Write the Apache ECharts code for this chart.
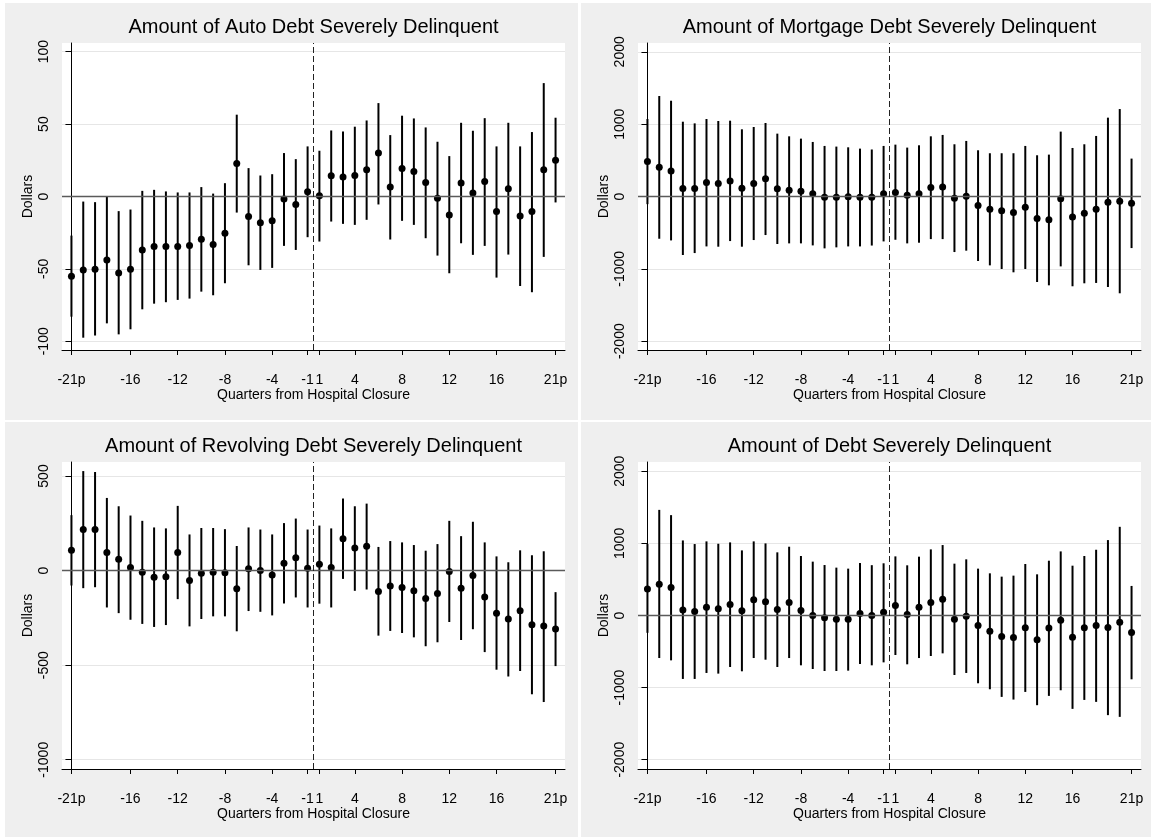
<!DOCTYPE html>
<html><head><meta charset="utf-8">
<script src="https://cdn.jsdelivr.net/npm/echarts@6/dist/echarts.min.js"></script>
<style>html,body{margin:0;padding:0;background:#fff}#c{width:1151px;height:837px}</style>
</head><body><div id="c"></div>
<script>
// Quarters relative to hospital closure (no quarter 0)
const quarters = [-21,-20,-19,-18,-17,-16,-15,-14,-13,-12,-11,-10,-9,-8,-7,-6,-5,-4,-3,-2,-1,
                  1,2,3,4,5,6,7,8,9,10,11,12,13,14,15,16,17,18,19,20,21];
const xTickQuarters = [-21,-16,-12,-8,-4,-1,1,4,8,12,16,21];
const xTickLabels = ['-21p','-16','-12','-8','-4','-1','1','4','8','12','16','21p'];

// Auto debt
const autoEst = [-55,-50.7,-50.2,-43.8,-52.8,-50.2,-36.9,-34.6,-34.6,-34.6,-33.9,-29.5,-33.2,-25.3,22.8,-13.8,-18.2,-16.8,-1.8,-5.5,3.2,
                 0.5,14.3,13.4,14.5,18.4,30,6.5,19.4,17.3,9.7,-1.2,-12.7,9.4,2.5,10.4,-10.4,5.3,-13.4,-10.4,18.4,25.1];
const autoHi = [-27,-3.5,-3.9,0,-10.1,-9,3.9,4.6,3.5,2.8,2.8,6.5,2,9.2,56.5,19.6,14.5,15.4,30,25.8,34.6,
                31.6,45.6,44.9,48.2,52.5,64.5,42.4,55.8,53.9,47.7,37.8,27.9,50.9,45.4,54.1,34.6,50.9,34.6,44.5,78.3,54.4];
const autoLo = [-83,-97.5,-96,-87.6,-95.2,-91.7,-77.9,-74,-73,-71.4,-70.5,-65.7,-68.2,-59.9,-11.1,-47.5,-50.7,-49.3,-34.1,-36.9,-28.1,
                -31.1,-17.3,-18.9,-19.6,-16.1,-5.5,-29.7,-16.8,-19.6,-28.8,-40.8,-53,-32.3,-40.3,-34.1,-56,-40.1,-61.8,-66.1,-41.7,-4.1];
const autoTicks = [-100,-50,0,50,100];

// Mortgage debt
const mortEst = [483,405,354,110,110,193,179,216,115,179,244,106,87,74,37,-9,-9,-5,-9,-12,37,
                 55,18,37,124,133,-23,5,-124,-175,-198,-221,-147,-303,-322,-32,-285,-230,-175,-78,-64,-92];
const mortHi = [1071,1389,1324,1034,1011,1071,1044,1048,929,961,1016,869,832,800,754,699,690,680,662,650,699,
                717,676,708,832,851,722,768,639,598,598,598,699,570,579,897,671,722,837,1090,1209,524];
const mortLo = [-106,-584,-607,-809,-782,-690,-694,-616,-694,-602,-533,-657,-648,-648,-676,-717,-703,-690,-690,-678,-621,
                -598,-648,-639,-589,-589,-768,-749,-892,-952,-1002,-1048,-1002,-1182,-1228,-966,-1241,-1200,-1195,-1251,-1338,-713];
const mortTicks = [-2000,-1000,0,1000,2000];

// Revolving debt
const revEst = [107,217,217,95,60,16,-9,-35,-32,96,-53,-14,-9,-11,-96,9,0,-23,39,68,12,
                33,16,168,119,128,-111,-81,-89,-107,-147,-121,-5,-93,-26,-140,-225,-256,-212,-286,-293,-309];
const revHi = [293,526,521,384,340,291,263,228,223,342,191,225,225,219,130,228,217,191,251,275,217,
               238,223,381,340,354,125,156,149,135,105,140,263,182,258,149,75,44,107,81,102,-114];
const revLo = [-79,-93,-88,-195,-225,-260,-282,-298,-288,-151,-295,-256,-242,-242,-321,-214,-218,-237,-174,-142,-195,
               -175,-195,-44,-107,-100,-344,-319,-330,-353,-400,-379,-272,-367,-310,-431,-524,-560,-531,-654,-695,-505];
const revTicks = [-1000,-500,0,500];

// Total debt
const totEst = [369,433,387,78,55,115,92,152,65,217,189,83,180,69,0,-32,-51,-51,28,0,46,
                138,14,115,180,226,-51,-9,-138,-217,-290,-304,-171,-336,-175,-65,-300,-171,-138,-166,-92,-235];
const totHi = [991,1465,1392,1041,991,1028,995,1014,903,1028,1000,876,954,825,747,700,664,650,728,698,724,
               820,696,816,917,977,719,779,650,585,539,553,714,571,760,889,691,825,912,1046,1230,410];
const totLo = [-240,-590,-622,-880,-880,-797,-806,-714,-774,-590,-613,-714,-590,-691,-742,-770,-770,-765,-673,-691,-650,
               -548,-677,-590,-562,-525,-825,-797,-940,-1023,-1129,-1166,-1060,-1244,-1115,-1037,-1295,-1171,-1198,-1382,-1406,-885];
const totTicks = [-2000,-1000,0,1000,2000];

const titles = ['Amount of Auto Debt Severely Delinquent','Amount of Mortgage Debt Severely Delinquent',
                'Amount of Revolving Debt Severely Delinquent','Amount of Debt Severely Delinquent'];
const xTitle = 'Quarters from Hospital Closure';
const yTitle = 'Dollars';

const panels = [
  {est: autoEst, lo: autoLo, hi: autoHi, ticks: autoTicks, min: -106, max: 106, left: 62, top: 43},
  {est: mortEst, lo: mortLo, hi: mortHi, ticks: mortTicks, min: -2122, max: 2122, left: 638, top: 43},
  {est: revEst, lo: revLo, hi: revHi, ticks: revTicks, min: -1049, max: 574, left: 62, top: 462},
  {est: totEst, lo: totLo, hi: totHi, ticks: totTicks, min: -2129, max: 2129, left: 638, top: 462}
];

const FONT = 'Liberation Sans, Arial, sans-serif';
const PW = 503, PH = 307;
const xTickIdx = xTickQuarters.map(q => quarters.indexOf(q));
const cutIdx = quarters.indexOf(-1) + 0.5;

const grids = [], xAxes = [], yAxes = [], series = [], graphics = [];
const bgRects = [[5,3,573,417],[581,3,570,417],[5,422,573,415],[581,422,570,415]];
bgRects.forEach(r => graphics.push({type:'rect', shape:{x:r[0],y:r[1],width:r[2],height:r[3]}, style:{fill:'#efefef'}, z:-10, silent:true}));

panels.forEach((p, k) => {
  grids.push({left: p.left, top: p.top, width: PW, height: PH, show: true, backgroundColor: '#fff', borderWidth: 0, containLabel: false});
  graphics.push({type:'text', x: p.left + PW/2, y: p.top - 16, style:{text: titles[k], font: '20px ' + FONT, fill:'#000', textAlign:'center', textVerticalAlign:'middle'}, z: 10});
  xAxes.push({
    type:'value', gridIndex:k, min:-0.8, max: quarters.length - 1 + 0.8,
    name: xTitle, nameLocation:'middle', nameGap: 38,
    nameTextStyle:{fontFamily: FONT, fontSize: 14, color:'#000', verticalAlign:'top'},
    axisLine:{show:true, onZero:false, lineStyle:{color:'#000', width:1}},
    axisTick:{show:true, length:5, customValues: xTickIdx, lineStyle:{color:'#000'}},
    axisLabel:{customValues: xTickIdx, margin: 23, fontFamily: FONT, fontSize: 14, color:'#000',
      formatter: v => xTickLabels[xTickIdx.indexOf(Math.round(v))] || ''},
    splitLine:{show:false}
  });
  yAxes.push({
    type:'value', gridIndex:k, min:p.min, max:p.max,
    name: yTitle, nameLocation:'middle', nameGap: 27, nameRotate: 90,
    nameTextStyle:{fontFamily: FONT, fontSize: 14, color:'#000'},
    axisLine:{show:true, lineStyle:{color:'#000', width:1}},
    axisTick:{show:true, length:6, customValues: p.ticks, lineStyle:{color:'#000'}},
    axisLabel:{customValues: p.ticks, rotate: 90, margin: 11, fontFamily: FONT, fontSize: 14, color:'#000',
      formatter: v => String(Math.round(v))},
    splitLine:{show:true, lineStyle:{color:'#e6e6e6', width:1}}
  });
  series.push({
    type:'scatter', xAxisIndex:k, yAxisIndex:k, data: [], z:1, silent:true,
    markLine:{silent:true, symbol:['none','none'], label:{show:false}, animation:false,
      data:[{yAxis:0, lineStyle:{color:'#5a5a5a', width:1.3, type:'solid'}},
            {xAxis:cutIdx, lineStyle:{color:'#222', width:1, type:[6,3]}}]}
  });
  series.push({
    type:'custom', xAxisIndex:k, yAxisIndex:k, z:2, silent:true,
    data: quarters.map((q,i) => [i, p.lo[i], p.hi[i]]),
    encode:{x:0, y:[1,2]},
    renderItem: (params, api) => {
      const a = api.coord([api.value(0), api.value(1)]);
      const b = api.coord([api.value(0), api.value(2)]);
      return {type:'line', shape:{x1:a[0], y1:a[1], x2:b[0], y2:b[1]}, style:{stroke:'#000', lineWidth:2}};
    }
  });
  series.push({
    type:'scatter', xAxisIndex:k, yAxisIndex:k, z:3, silent:true,
    data: quarters.map((q,i) => [i, p.est[i]]),
    symbol:'circle', symbolSize:7, itemStyle:{color:'#000', opacity:1}
  });
});

const chart = echarts.init(document.getElementById('c'), null, {renderer:'canvas'});
chart.setOption({
  animation:false,
  backgroundColor:'#fff',
  grid: grids, xAxis: xAxes, yAxis: yAxes, series: series, graphic: graphics
});
</script></body></html>
